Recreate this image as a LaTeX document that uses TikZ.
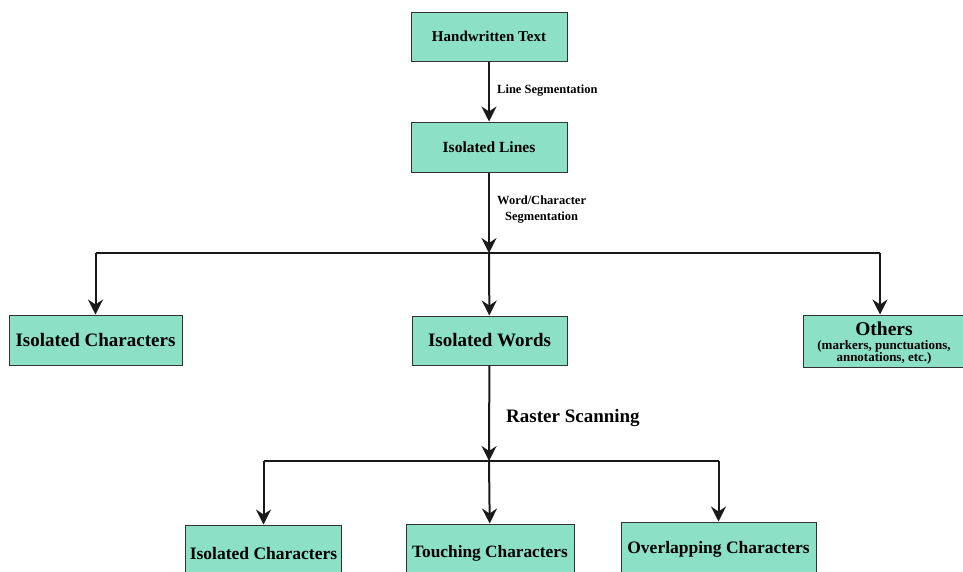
\documentclass[tikz,border=0pt]{standalone}
\usepackage{fontspec}
\setmainfont{Liberation Serif}
\usetikzlibrary{arrows.meta}
\definecolor{boxfill}{RGB}{140,224,198}
\definecolor{linec}{RGB}{26,26,26}
\definecolor{boxline}{RGB}{50,50,50}
\begin{document}
\begin{tikzpicture}[x=1pt,y=-1pt,
 box/.style={draw=boxline, line width=1pt, fill=boxfill, inner sep=0pt, align=center},
 arr/.style={draw=linec, line width=2pt, -{Stealth[length=15pt,width=15pt,inset=5pt]}},
 ln/.style={draw=linec, line width=2pt},
 lbl/.style={inner sep=0pt, anchor=west, align=center}]
\clip (0,0) rectangle (963,571);
% boxes
\node[box, minimum width=156pt, minimum height=49pt, font=\bfseries\fontsize{15}{18}\selectfont] (hw) at (489,36.5) {Handwritten Text};
\node[box, minimum width=156pt, minimum height=50pt, font=\bfseries\fontsize{15.5}{18}\selectfont] (il) at (489,147) {Isolated Lines};
\node[box, minimum width=173pt, minimum height=50pt, font=\bfseries\fontsize{19}{22}\selectfont] (ic) at (95.5,340) {Isolated Characters};
\node[box, minimum width=155pt, minimum height=49pt, font=\bfseries\fontsize{19}{22}\selectfont] (iw) at (489.5,340.5) {Isolated Words};
\node[box, minimum width=161pt, minimum height=52pt, font=\bfseries] (ot) at (883.5,341) {};
\node[inner sep=0pt, align=center, font=\bfseries] (ott) at (884,343) {{\fontsize{19.5}{18}\selectfont Others}\\[1.5pt]{\fontsize{13}{12}\selectfont (markers, punctuations,}\\[0pt]{\fontsize{13}{12}\selectfont annotations, etc.)}};
\node[box, minimum width=156pt, minimum height=50pt, text height=18pt, text depth=0pt, font=\bfseries\fontsize{17.5}{20}\selectfont] (bic) at (263.5,550) {Isolated Characters};
\node[box, minimum width=168pt, minimum height=50pt, text height=17pt, text depth=0pt, font=\bfseries\fontsize{17.3}{20}\selectfont] (btc) at (490,549) {Touching Characters};
\node[box, minimum width=195pt, minimum height=50pt, text height=12.5pt, text depth=0pt, font=\bfseries\fontsize{17.5}{20}\selectfont] (boc) at (718.5,547) {Overlapping Characters};
% labels
\node[lbl, font=\bfseries\fontsize{12.5}{14}\selectfont] (l1) at (497,91) {Line Segmentation};
\node[lbl, font=\bfseries\fontsize{12.5}{15.5}\selectfont] (l2) at (497,209.5) {Word/Character\\Segmentation};
\node[lbl, font=\bfseries\fontsize{19}{22}\selectfont] (l3) at (506,418) {Raster Scanning};
% junctions
\coordinate (j1) at (489,253);
\coordinate (j1o) at (880,253);
\coordinate (j2) at (489,461);
% connectors
\draw[arr] (hw) -- (il);
\draw[arr] (il) -- (j1);
\draw[ln] (ic.north |- j1) -- (j1o);
\draw[arr] (ic.north |- j1) -- (ic);
\draw[arr] (j1) -- (iw);
\draw[arr] (j1o) -- (j1o |- ot.north);
\draw[arr] (iw) -- (j2);
\draw[ln] (bic.north |- j2) -- (boc.north |- j2);
\draw[arr] (bic.north |- j2) -- (bic);
\draw[arr] (j2) -- (btc);
\draw[arr] (boc.north |- j2) -- (boc);
\end{tikzpicture}
\end{document}
